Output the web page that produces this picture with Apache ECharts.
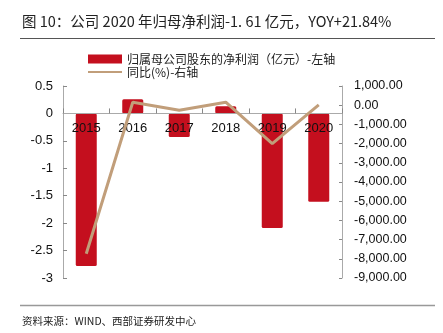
<!DOCTYPE html>
<html>
<head>
<meta charset="utf-8">
<script src="https://cdn.jsdelivr.net/npm/echarts@6/dist/echarts.min.js"></script>
<style>
  html, body { margin: 0; padding: 0; background: #fff; }
  #chart { width: 443px; height: 333px; }
</style>
</head>
<body>
<div id="chart"></div>
<script>
// Annual figures
const years = ['2015', '2016', '2017', '2018', '2019', '2020'];
const netProfit = [-2.78, 0.26, -0.43, 0.13, -2.09, -1.61];        // 亿元, left axis
const yoyPct = [-7740, 156, -260, 156, -2000, 21.84];               // %, right axis
const leftTicks = { min: -3, max: 0.5, step: 0.5 };
const rightTicks = { min: -9000, max: 1000, step: 1000 };

const titleText = '图 10：公司 2020 年归母净利润-1. 61 亿元，YOY+21.84%';
const sourceText = '资料来源：WIND、西部证券研发中心';
const barName = '归属母公司股东的净利润（亿元）-左轴';
const lineName = '同比(%)-右轴';

const cjk = '"Noto Sans CJK SC", "Liberation Sans", sans-serif';
const latin = '"Liberation Sans", Arial, sans-serif';

const gridBottom = 55;
const chart = echarts.init(document.getElementById('chart'), null, { renderer: 'canvas' });

chart.setOption({
  animation: false,
  backgroundColor: '#fff',
  graphic: [
    { type: 'text', left: 22, top: 14, style: { text: titleText, font: '14.5px ' + cjk, fill: '#222' } },
    { type: 'line', shape: { x1: 20, y1: 38.5, x2: 435, y2: 38.5 }, style: { stroke: '#555', lineWidth: 1 } },
    { type: 'line', shape: { x1: 20, y1: 305.5, x2: 435, y2: 305.5 }, style: { stroke: '#999', lineWidth: 1.6 } },
    { type: 'text', left: 22, top: 316, style: { text: sourceText, font: '10.5px ' + cjk, fill: '#222' } }
  ],
  legend: {
    orient: 'vertical',
    left: 87,
    top: 53,
    padding: 0,
    itemWidth: 34,
    itemHeight: 9,
    itemGap: 1,
    textStyle: { fontFamily: cjk, fontSize: 12, color: '#222' },
    data: [
      { name: barName, icon: 'rect' },
      { name: lineName, itemStyle: { opacity: 0 } }
    ]
  },
  grid: { left: 63, right: 101, top: 86, bottom: gridBottom, containLabel: false },
  xAxis: {
    type: 'category',
    data: years,
    position: 'bottom',
    z: 5,
    axisLine: { onZero: false, lineStyle: { color: '#aaa', width: 1 } },
    axisTick: { show: true, inside: true, length: 5, lineStyle: { color: '#888' } },
    axisLabel: { color: '#111', fontFamily: latin, fontSize: 13, margin: 8 },
    splitLine: { show: false }
  },
  yAxis: [
    {
      type: 'value',
      min: leftTicks.min, max: leftTicks.max, interval: leftTicks.step,
      position: 'left',
      axisLine: { show: true, lineStyle: { color: '#aaa' } },
      axisTick: { show: true, inside: true, length: 4, lineStyle: { color: '#888' } },
      axisLabel: { color: '#111', fontFamily: latin, fontSize: 13, margin: 10 },
      splitLine: { show: false }
    },
    {
      type: 'value',
      min: rightTicks.min, max: rightTicks.max, interval: rightTicks.step,
      position: 'right',
      axisLine: { show: true, onZero: false, lineStyle: { color: '#aaa' } },
      axisTick: { show: true, inside: true, length: 3, lineStyle: { color: '#888' } },
      axisLabel: {
        color: '#111', fontFamily: latin, fontSize: 12.5, margin: 12,
        formatter: v => v.toLocaleString('en-US', { minimumFractionDigits: 2, maximumFractionDigits: 2 })
      },
      splitLine: { show: false }
    }
  ],
  series: [
    {
      name: barName,
      type: 'bar',
      yAxisIndex: 0,
      data: netProfit,
      barWidth: 21,
      itemStyle: { color: '#C40F1E', borderRadius: 1.5 }
    },
    {
      name: lineName,
      type: 'line',
      yAxisIndex: 1,
      data: yoyPct,
      symbol: 'none',
      showSymbol: false,
      z: 6,
      lineStyle: { color: '#C19E7A', width: 3 },
      itemStyle: { color: '#C19E7A' }
    }
  ]
});

// Lift the category axis onto the left axis' zero line
const zeroY = chart.convertToPixel({ yAxisIndex: 0 }, 0);
const bottomY = chart.getHeight() - gridBottom;
chart.setOption({ xAxis: { offset: zeroY - bottomY } });
</script>
</body>
</html>
